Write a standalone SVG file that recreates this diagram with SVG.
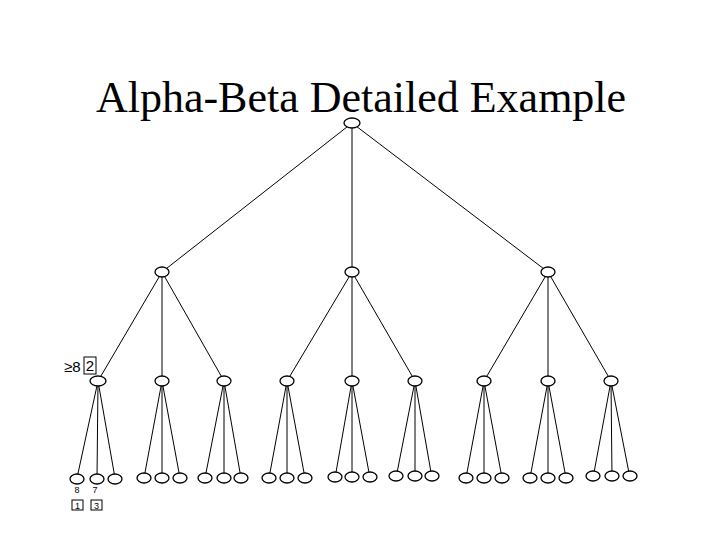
<svg xmlns="http://www.w3.org/2000/svg" width="720" height="540" viewBox="0 0 720 540">
<style>
.n{fill:#fff;stroke:#000;stroke-width:1.3}
.e{stroke:#000;stroke-width:1;fill:none}
.t{font-family:"Liberation Serif",serif;font-size:44px}
.s{font-family:"Liberation Sans",sans-serif;font-size:9px}
.b{fill:#fff;stroke:#000;stroke-width:1}
</style>
<rect width="720" height="540" fill="#fff"/>
<text class="t" x="361" y="112" text-anchor="middle">Alpha-Beta Detailed Example</text>
<g id="connectors">
<path class="e" d="M352,123L162,272M352,123L352,272M352,123L548,272
M162,272L98,381M162,272L162,381M162,272L224,381
M352,272L287,381M352,272L352,381M352,272L415,381
M548,272L484,381M548,272L548,381M548,272L611,381
M98,381L77,478M98,381L97,478M98,381L115,478
M162,381L144,478M162,381L162,478M162,381L180,478
M224,381L205,478M224,381L224,478M224,381L241,478
M287,381L269,478M287,381L287,478M287,381L305,478
M352,381L335,478M352,381L352,478M352,381L370,478
M415,381L396,478M415,381L415,478M415,381L432,478
M484,381L466,478M484,381L484,478M484,381L502,478
M548,381L530,478M548,381L548,478M548,381L566,478
M611,381L593,478M611,381L612,478M611,381L630,478"/>
</g>
<g id="nodes">
<ellipse id="root" class="n" cx="352" cy="123" rx="8" ry="5"/>
<ellipse class="n" cx="162" cy="272" rx="7" ry="5"/>
<ellipse class="n" cx="352" cy="272" rx="7" ry="5"/>
<ellipse class="n" cx="548" cy="272" rx="7" ry="5"/>
<ellipse class="n" cx="98" cy="381" rx="8" ry="5"/>
<ellipse class="n" cx="162" cy="381" rx="7" ry="5"/>
<ellipse class="n" cx="224" cy="381" rx="7" ry="5"/>
<ellipse class="n" cx="287" cy="381" rx="7" ry="5"/>
<ellipse class="n" cx="352" cy="381" rx="7" ry="5"/>
<ellipse class="n" cx="415" cy="381" rx="7" ry="5"/>
<ellipse class="n" cx="484" cy="381" rx="7" ry="5"/>
<ellipse class="n" cx="548" cy="381" rx="7" ry="5"/>
<ellipse class="n" cx="611" cy="381" rx="7" ry="5"/>
<g id="leaves">
<ellipse class="n" cx="77" cy="479" rx="7" ry="5"/><ellipse class="n" cx="97" cy="479" rx="7" ry="5"/><ellipse class="n" cx="115" cy="479" rx="7" ry="5"/>
<ellipse class="n" cx="144" cy="478" rx="7" ry="5"/><ellipse class="n" cx="162" cy="478" rx="7" ry="5"/><ellipse class="n" cx="180" cy="478" rx="7" ry="5"/>
<ellipse class="n" cx="205" cy="478" rx="7" ry="5"/><ellipse class="n" cx="224" cy="478" rx="7" ry="5"/><ellipse class="n" cx="241" cy="478" rx="7" ry="5"/>
<ellipse class="n" cx="269" cy="478" rx="7" ry="5"/><ellipse class="n" cx="287" cy="478" rx="7" ry="5"/><ellipse class="n" cx="305" cy="478" rx="7" ry="5"/>
<ellipse class="n" cx="335" cy="477" rx="7" ry="5"/><ellipse class="n" cx="352" cy="477" rx="7" ry="5"/><ellipse class="n" cx="370" cy="477" rx="7" ry="5"/>
<ellipse class="n" cx="396" cy="476" rx="7" ry="5"/><ellipse class="n" cx="415" cy="476" rx="7" ry="5"/><ellipse class="n" cx="432" cy="476" rx="7" ry="5"/>
<ellipse class="n" cx="466" cy="478" rx="7" ry="5"/><ellipse class="n" cx="484" cy="478" rx="7" ry="5"/><ellipse class="n" cx="502" cy="478" rx="7" ry="5"/>
<ellipse class="n" cx="530" cy="478" rx="7" ry="5"/><ellipse class="n" cx="548" cy="478" rx="7" ry="5"/><ellipse class="n" cx="566" cy="478" rx="7" ry="5"/>
<ellipse class="n" cx="593" cy="476" rx="7" ry="5"/><ellipse class="n" cx="612" cy="476" rx="7" ry="5"/><ellipse class="n" cx="630" cy="476" rx="7" ry="5"/>
</g>
</g>
<g id="labels">
<text x="64" y="372" font-family="Liberation Sans,sans-serif" font-size="15">≥8</text>
<rect class="b" x="84" y="357" width="12" height="17"/>
<text x="90" y="371" font-family="Liberation Sans,sans-serif" font-size="15" text-anchor="middle">2</text>
<text class="s" x="77" y="493" text-anchor="middle">8</text>
<text class="s" x="95" y="493" text-anchor="middle">7</text>
<rect class="b" x="72" y="500" width="11" height="10"/>
<text class="s" x="77.5" y="508.5" text-anchor="middle">1</text>
<rect class="b" x="91" y="500" width="11" height="10"/>
<text class="s" x="96.5" y="508.5" text-anchor="middle">3</text>
</g>
</svg>
